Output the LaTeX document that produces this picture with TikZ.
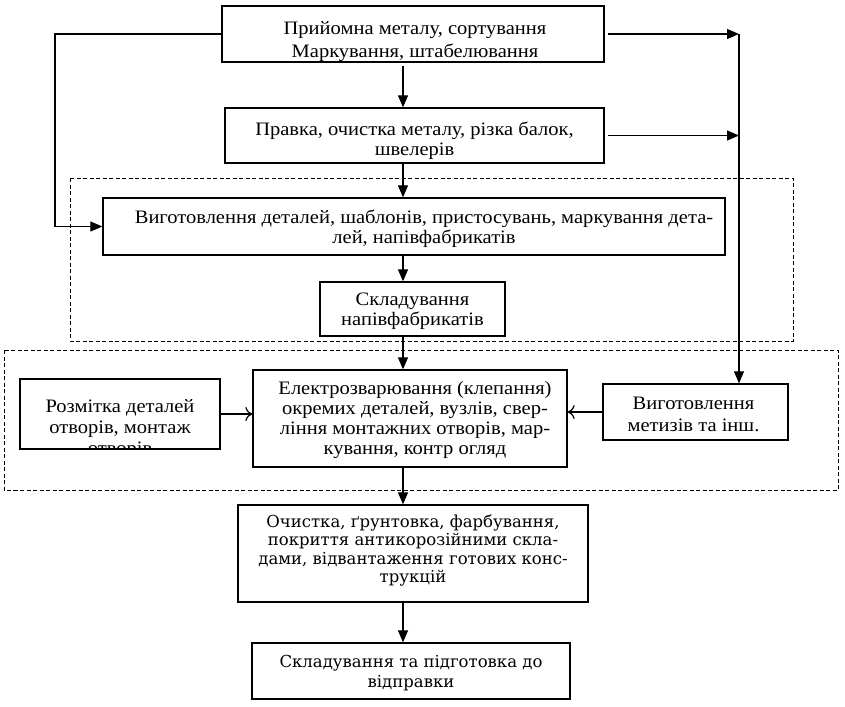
\documentclass[tikz,border=0pt]{standalone}
\usepackage{fontspec}
\setmainfont{Liberation Serif}[FakeStretch=1.08]
\newfontfamily\wideserif{DejaVu Serif}
\usetikzlibrary{arrows.meta,calc}
\begin{document}
\begin{tikzpicture}[x=1pt,y=-1pt,
  box/.style={draw,line width=1.3pt,inner sep=0pt},
  txt/.style={inner sep=0pt,align=center,font=\fontsize{19}{20}\selectfont},
  wtxt/.style={inner sep=0pt,align=center,font=\wideserif\fontsize{16.5}{18.4}\selectfont},
  arr/.style={line width=1.2pt,-{Triangle[length=12pt,width=10pt]}},
  oarr/.style={line width=1.2pt,-{To[length=7pt,width=14pt]}},
  dbox/.style={line width=1pt,dash pattern=on 4pt off 2.5pt}]
\useasboundingbox[fill=white] (0,0) rectangle (845,706);
% dashed groups
\draw[dbox] (70,178) rectangle (793,341);
\draw[dbox] (4,350) rectangle (838,490);
% helper coordinates
\coordinate (ax) at (403,0);
\coordinate (lx) at (55,0);
\coordinate (rx) at (739,0);
% boxes
\node[box,minimum width=382,minimum height=56] (top) at (413,34) {};
\node[box,minimum width=379,minimum height=55] (b2) at (414.5,135.5) {};
\node[box,minimum width=622,minimum height=57] (b3) at (414,226.5) {};
\node[box,minimum width=185,minimum height=54] (b4) at (412.5,309) {};
\node[box,minimum width=314,minimum height=97] (b5) at (410,418.5) {};
\node[box,minimum width=200,minimum height=70] (bl) at (120,414) {};
\node[box,minimum width=185,minimum height=56] (br) at (695.5,412) {};
\node[box,minimum width=350,minimum height=97] (b6) at (413,553.5) {};
\node[box,minimum width=318,minimum height=56] (b7) at (411,671) {};
% texts
\begin{scope}
  \clip (top.south west) rectangle (top.north east);
  \node[txt,font=\fontsize{19}{23}\selectfont] (topT) at ($(top)+(2,7.5)$)
    {Прийомна металу, сортування\\Маркування, штабелювання};
\end{scope}
\node[txt,font=\fontsize{19}{20}\selectfont] (b2T) at ($(b2)+(0,5)$)
  {Правка, очистка металу, різка балок,\\швелерів};
\node[txt] (b3T) at ($(b3)+(10,2)$)
  {Виготовлення деталей, шаблонів, пристосувань, маркування дета-\\лей, напівфабрикатів};
\node[txt] (b4T) at ($(b4)+(0,2.5)$)
  {Складування\\напівфабрикатів};
\node[txt] (b5T) at ($(b5)+(5,1)$)
  {Електрозварювання (клепання)\\окремих деталей, вузлів, свер-\\ління монтажних отворів, мар-\\кування, контр огляд};
\begin{scope}
  \clip (bl.south west) rectangle (bl.north east);
  \node[txt,font=\fontsize{19}{21}\selectfont] (blT) at (120,429.5)
    {Розмітка деталей\\отворів, монтаж\\отворів};
\end{scope}
\node[txt,font=\fontsize{19}{22}\selectfont] (brT) at ($(br)+(-2,2)$)
  {Виготовлення\\метизів та інш.};
\node[wtxt] (b6T) at ($(b6)+(0,-3)$)
  {Очистка, ґрунтовка, фарбування,\\покриття антикорозійними скла-\\дами, відвантаження готових конс-\\трукцій};
\node[wtxt,font=\wideserif\fontsize{16.5}{20}\selectfont] (b7T) at ($(b7)+(0,2)$)
  {Складування та підготовка до\\відправки};
% main vertical flow
\draw[arr] (top.south -| ax) ++(0,3) -- (b2.north -| ax);
\draw[arr] (b2.south -| ax) -- (b3.north -| ax);
\draw[arr] (b3.south -| ax) -- (b4.north -| ax);
\draw[arr] (b4.south -| ax) -- (b5.north -| ax);
\draw[arr] (b5.south -| ax) -- (b6.north -| ax);
\draw[arr] (b6.south -| ax) -- (b7.north -| ax);
% left bypass
\draw[arr] (top.west) -- (top.west -| lx) -- (b3.west -| lx) -- (b3.west);
% right lines
\draw[arr] (top.east) ++(3,0) -- (top.east -| rx);
\draw[arr] (b2.east) ++(3,0) -- (b2.east -| rx);
\draw[arr] (top.east -| rx) -- (br.north -| rx);
% side inputs to b5
\draw[oarr] (bl.east) -- (bl.east -| b5.west);
\draw[oarr] (br.west) -- (br.west -| b5.east);
\end{tikzpicture}
\end{document}
